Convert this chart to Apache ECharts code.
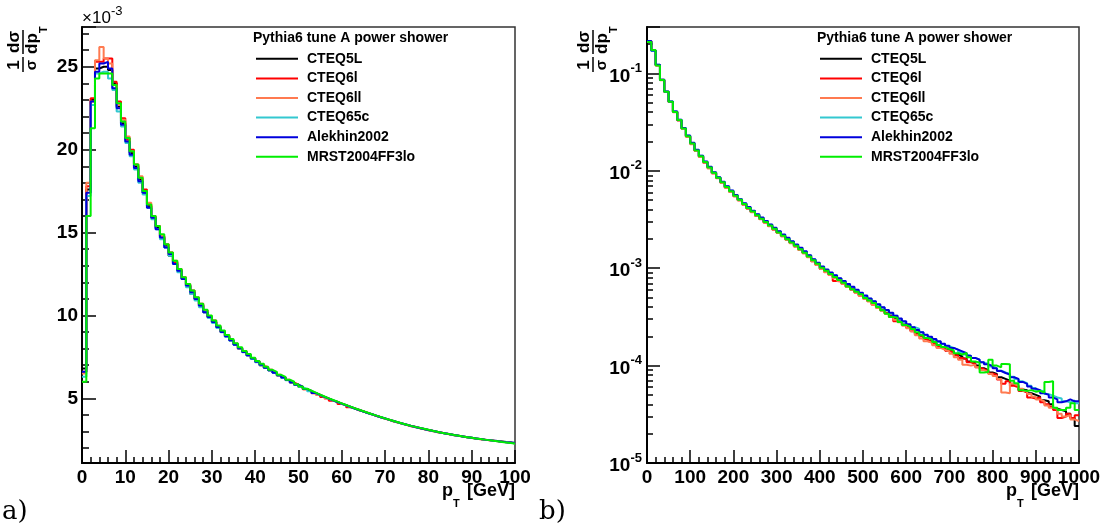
<!DOCTYPE html>
<html><head><meta charset="utf-8">
<script src="https://cdn.jsdelivr.net/npm/echarts@6/dist/echarts.min.js"></script>
<style>html,body{margin:0;padding:0;background:#fff}#c{width:1104px;height:525px}</style>
</head><body><div id="c"></div>
<script>
// ---- data ----
const seriesNames = ['CTEQ5L', 'CTEQ6l', 'CTEQ6ll', 'CTEQ65c', 'Alekhin2002', 'MRST2004FF3lo'];
const seriesColors = ['#000000', '#ff0000', '#ff7a50', '#33c8d0', '#0000dd', '#00ee00'];
const legendTitle = 'Pythia6 tune A power shower';
const leftBinWidth = 1;    // GeV, 100 bins 0..100
const rightBinWidth = 10;  // GeV, 100 bins 0..1000

// left panel: 1/sigma dsigma/dpT in units of 10^-3, per 1 GeV bin
const leftCTEQ5L = [6.8,17.6,23.0,24.9,25.0,25.0,24.8,24.0,22.6,21.6,
20.7,19.8,19.0,18.2,17.4,16.6,15.9,15.3,14.7,14.2,
13.6,13.2,12.7,12.2,11.8,11.3,11.0,10.6,10.2,9.9,
9.6,9.3,9.0,8.75,8.5,8.25,8.0,7.8,7.6,7.4,
7.2,7.0,6.85,6.7,6.55,6.4,6.25,6.1,5.96,5.82,
5.69,5.56,5.44,5.32,5.2,5.09,4.98,4.88,4.78,4.68,
4.58,4.48,4.39,4.3,4.21,4.12,4.03,3.94,3.86,3.78,
3.7,3.62,3.54,3.47,3.4,3.33,3.27,3.21,3.15,3.09,
3.03,2.98,2.93,2.88,2.83,2.78,2.74,2.70,2.66,2.62,
2.58,2.54,2.51,2.48,2.45,2.42,2.39,2.36,2.33,2.30];
const leftCTEQ6l = [6.6,17.8,23.1,25.3,25.3,25.5,25.5,24.1,22.9,21.9,
20.6,20.0,19.1,18.3,17.6,16.7,16.0,15.4,14.8,14.3,
13.8,13.2,12.8,12.3,11.8,11.5,11.0,10.7,10.3,9.9,
9.7,9.3,9.05,8.8,8.5,8.3,8.0,7.85,7.6,7.42,
7.2,7.05,6.85,6.72,6.55,6.38,6.25,6.12,5.95,5.84,
5.7,5.55,5.45,5.3,5.22,5.08,4.99,4.86,4.79,4.66,
4.59,4.46,4.4,4.28,4.22,4.11,4.04,3.93,3.87,3.77,
3.71,3.6,3.55,3.46,3.41,3.32,3.28,3.2,3.15,3.08,
3.04,2.96,2.94,2.87,2.83,2.77,2.75,2.69,2.66,2.61,
2.58,2.53,2.51,2.47,2.45,2.41,2.39,2.35,2.33,2.28];
const leftCTEQ6ll = [6.5,18.0,22.9,25.4,26.2,25.5,25.2,23.9,22.7,21.8,
20.8,19.9,19.1,18.4,17.5,16.8,15.9,15.4,14.8,14.3,
13.7,13.3,12.7,12.3,11.9,11.4,11.1,10.6,10.3,9.95,
9.6,9.35,9.0,8.8,8.5,8.3,8.0,7.82,7.62,7.4,
7.22,7.0,6.88,6.7,6.57,6.42,6.25,6.1,5.98,5.8,
5.7,5.55,5.43,5.33,5.2,5.1,4.97,4.88,4.77,4.69,
4.57,4.49,4.38,4.31,4.2,4.13,4.02,3.95,3.85,3.79,
3.69,3.63,3.53,3.48,3.39,3.34,3.26,3.22,3.14,3.1,
3.02,2.99,2.92,2.89,2.82,2.79,2.73,2.71,2.65,2.63,
2.57,2.55,2.5,2.49,2.44,2.43,2.38,2.37,2.32,2.31];
const leftCTEQ65c = [6.3,17.2,22.7,24.6,24.7,24.7,24.3,23.6,22.3,21.4,
20.4,19.6,18.8,18.0,17.3,16.5,15.8,15.2,14.6,14.1,
13.6,13.1,12.6,12.2,11.7,11.3,10.9,10.5,10.2,9.85,
9.55,9.25,8.98,8.72,8.48,8.22,8.0,7.78,7.58,7.38,
7.18,7.0,6.83,6.68,6.53,6.38,6.23,6.09,5.95,5.81,
5.68,5.56,5.43,5.31,5.2,5.08,4.98,4.87,4.77,4.67,
4.57,4.48,4.38,4.29,4.2,4.11,4.03,3.94,3.86,3.78,
3.7,3.62,3.55,3.47,3.41,3.34,3.27,3.21,3.15,3.09,
3.03,2.98,2.93,2.88,2.83,2.78,2.74,2.7,2.66,2.62,
2.58,2.54,2.51,2.48,2.44,2.41,2.38,2.35,2.32,2.28];
const leftAlekhin2002 = [6.6,17.4,22.9,24.7,25.2,25.3,24.9,23.7,22.5,21.5,
20.5,19.7,18.9,18.1,17.4,16.5,15.9,15.2,14.7,14.1,
13.7,13.1,12.7,12.2,11.8,11.4,11.0,10.6,10.2,9.9,
9.6,9.3,9.0,8.75,8.5,8.24,8.02,7.8,7.6,7.4,
7.2,7.02,6.85,6.7,6.55,6.4,6.26,6.1,5.97,5.82,
5.7,5.56,5.45,5.32,5.21,5.09,4.99,4.88,4.78,4.68,
4.58,4.49,4.39,4.3,4.21,4.12,4.04,3.95,3.86,3.79,
3.7,3.63,3.55,3.48,3.41,3.34,3.27,3.21,3.15,3.09,
3.04,2.98,2.93,2.88,2.83,2.79,2.74,2.7,2.66,2.62,
2.58,2.55,2.51,2.48,2.45,2.42,2.38,2.35,2.33,2.3];
const leftMRST2004FF3lo = [6.0,16.0,21.3,24.3,24.6,24.6,24.6,23.9,22.8,21.7,
20.7,19.9,19.1,18.3,17.5,16.7,16.0,15.4,14.9,14.3,
13.8,13.3,12.8,12.3,11.9,11.5,11.1,10.7,10.35,10.0,
9.7,9.4,9.1,8.82,8.58,8.32,8.08,7.85,7.68,7.45,
7.25,7.08,6.9,6.72,6.6,6.42,6.3,6.12,6.0,5.85,
5.72,5.58,5.46,5.34,5.22,5.11,5.0,4.9,4.8,4.7,
4.6,4.5,4.4,4.31,4.22,4.13,4.04,3.96,3.87,3.79,
3.71,3.63,3.56,3.48,3.41,3.34,3.28,3.22,3.16,3.1,
3.04,2.99,2.93,2.88,2.84,2.79,2.75,2.7,2.66,2.62,
2.58,2.55,2.51,2.48,2.44,2.41,2.37,2.34,2.31,2.27];

// right panel: 1/sigma dsigma/dpT, per 10 GeV bin (log scale)
const rightCTEQ5L = [2.14e-1,1.71e-1,1.22e-1,8.55e-2,6.47e-2,5.10e-2,4.05e-2,3.30e-2,2.71e-2,2.26e-2,
1.90e-2,1.61e-2,1.40e-2,1.22e-2,1.08e-2,9.50e-3,8.45e-3,7.58e-3,6.80e-3,6.12e-3,
5.52e-3,5.01e-3,4.54e-3,4.14e-3,3.79e-3,3.48e-3,3.21e-3,2.96e-3,2.73e-3,2.52e-3,
2.32e-3,2.14e-3,1.98e-3,1.83e-3,1.68e-3,1.56e-3,1.44e-3,1.31e-3,1.19e-3,1.09e-3,
9.90e-4,9.25e-4,8.60e-4,8.05e-4,7.50e-4,7.00e-4,6.55e-4,6.10e-4,5.70e-4,5.30e-4,
4.95e-4,4.62e-4,4.30e-4,4.02e-4,3.75e-4,3.50e-4,3.28e-4,3.05e-4,2.84e-4,2.65e-4,
2.47e-4,2.30e-4,2.15e-4,2.04e-4,1.90e-4,1.80e-4,1.72e-4,1.60e-4,1.52e-4,1.44e-4,
1.40e-4,1.30e-4,1.24e-4,1.18e-4,1.10e-4,1.06e-4,1.00e-4,9.40e-5,9.00e-5,8.50e-5,
8.20e-5,7.60e-5,7.30e-5,7.00e-5,6.50e-5,6.20e-5,5.70e-5,5.60e-5,5.20e-5,5.00e-5,
4.80e-5,4.40e-5,4.30e-5,4.00e-5,3.60e-5,3.50e-5,3.40e-5,3.20e-5,2.90e-5,2.40e-5];
const rightCTEQ6l = [2.13e-1,1.72e-1,1.21e-1,8.60e-2,6.50e-2,5.10e-2,4.02e-2,3.31e-2,2.70e-2,2.25e-2,
1.90e-2,1.61e-2,1.40e-2,1.22e-2,1.07e-2,9.45e-3,8.45e-3,7.55e-3,6.75e-3,6.10e-3,
5.50e-3,4.98e-3,4.52e-3,4.10e-3,3.78e-3,3.46e-3,3.20e-3,2.94e-3,2.72e-3,2.50e-3,
2.31e-3,2.14e-3,1.97e-3,1.82e-3,1.68e-3,1.55e-3,1.43e-3,1.31e-3,1.18e-3,1.08e-3,
9.90e-4,9.20e-4,8.55e-4,7.40e-4,7.30e-4,6.95e-4,6.45e-4,6.05e-4,5.65e-4,5.25e-4,
4.90e-4,4.60e-4,4.25e-4,3.95e-4,3.70e-4,3.45e-4,3.15e-4,2.85e-4,2.80e-4,2.60e-4,
2.45e-4,2.25e-4,2.10e-4,2.00e-4,1.88e-4,1.78e-4,1.68e-4,1.55e-4,1.50e-4,1.42e-4,
1.36e-4,1.28e-4,1.20e-4,1.16e-4,1.08e-4,1.04e-4,9.60e-5,9.20e-5,8.80e-5,8.30e-5,
8.00e-5,7.20e-5,6.50e-5,6.90e-5,6.20e-5,6.00e-5,5.50e-5,5.30e-5,4.70e-5,4.60e-5,
4.70e-5,4.20e-5,4.00e-5,3.80e-5,3.50e-5,2.90e-5,3.00e-5,3.20e-5,2.90e-5,3.10e-5];
const rightCTEQ6ll = [2.15e-1,1.72e-1,1.22e-1,8.50e-2,6.45e-2,5.08e-2,4.00e-2,3.30e-2,2.69e-2,2.24e-2,
1.88e-2,1.60e-2,1.39e-2,1.21e-2,1.06e-2,9.40e-3,8.40e-3,7.50e-3,6.72e-3,6.05e-3,
5.48e-3,4.96e-3,4.50e-3,4.10e-3,3.76e-3,3.45e-3,3.18e-3,2.93e-3,2.70e-3,2.49e-3,
2.30e-3,2.12e-3,1.96e-3,1.81e-3,1.67e-3,1.54e-3,1.42e-3,1.30e-3,1.18e-3,1.08e-3,
9.80e-4,9.10e-4,8.50e-4,7.90e-4,7.40e-4,6.90e-4,6.40e-4,6.00e-4,5.60e-4,5.20e-4,
4.85e-4,4.55e-4,4.20e-4,3.90e-4,3.65e-4,3.40e-4,3.20e-4,2.95e-4,2.78e-4,2.58e-4,
2.42e-4,2.25e-4,2.05e-4,1.90e-4,1.78e-4,1.72e-4,1.62e-4,1.52e-4,1.45e-4,1.40e-4,
1.32e-4,1.22e-4,1.15e-4,1.02e-4,1.00e-4,1.02e-4,9.60e-5,9.00e-5,8.60e-5,8.20e-5,
7.80e-5,7.30e-5,5.30e-5,5.20e-5,6.50e-5,6.20e-5,5.80e-5,5.50e-5,5.10e-5,4.80e-5,
4.50e-5,4.30e-5,3.90e-5,3.70e-5,3.60e-5,3.20e-5,3.00e-5,3.10e-5,2.80e-5,2.70e-5];
const rightCTEQ65c = [2.12e-1,1.70e-1,1.23e-1,8.60e-2,6.50e-2,5.14e-2,4.06e-2,3.34e-2,2.74e-2,2.29e-2,
1.93e-2,1.64e-2,1.43e-2,1.24e-2,1.09e-2,9.62e-3,8.58e-3,7.70e-3,6.92e-3,6.24e-3,
5.62e-3,5.10e-3,4.62e-3,4.22e-3,3.87e-3,3.56e-3,3.28e-3,3.03e-3,2.79e-3,2.58e-3,
2.38e-3,2.20e-3,2.03e-3,1.87e-3,1.73e-3,1.61e-3,1.48e-3,1.35e-3,1.23e-3,1.13e-3,
1.03e-3,9.60e-4,8.95e-4,8.40e-4,7.85e-4,7.35e-4,6.85e-4,6.40e-4,5.95e-4,5.55e-4,
5.20e-4,4.85e-4,4.55e-4,4.22e-4,3.95e-4,3.70e-4,3.45e-4,3.25e-4,3.00e-4,2.82e-4,
2.62e-4,2.48e-4,2.40e-4,2.20e-4,2.05e-4,1.95e-4,1.85e-4,1.75e-4,1.66e-4,1.58e-4,
1.52e-4,1.46e-4,1.38e-4,1.30e-4,1.26e-4,1.20e-4,1.15e-4,1.08e-4,1.04e-4,9.80e-5,
9.40e-5,8.90e-5,8.50e-5,8.20e-5,7.70e-5,7.30e-5,6.90e-5,6.60e-5,6.20e-5,5.90e-5,
5.60e-5,5.40e-5,5.10e-5,4.90e-5,4.70e-5,4.60e-5,4.30e-5,4.20e-5,4.40e-5,4.10e-5];
const rightAlekhin2002 = [2.16e-1,1.72e-1,1.23e-1,8.62e-2,6.52e-2,5.15e-2,4.07e-2,3.35e-2,2.75e-2,2.30e-2,
1.94e-2,1.65e-2,1.43e-2,1.25e-2,1.10e-2,9.68e-3,8.62e-3,7.72e-3,6.95e-3,6.27e-3,
5.66e-3,5.12e-3,4.65e-3,4.25e-3,3.90e-3,3.58e-3,3.31e-3,3.05e-3,2.81e-3,2.60e-3,
2.40e-3,2.22e-3,2.05e-3,1.89e-3,1.75e-3,1.62e-3,1.49e-3,1.36e-3,1.24e-3,1.14e-3,
1.04e-3,9.70e-4,9.05e-4,8.45e-4,7.90e-4,7.38e-4,6.90e-4,6.45e-4,6.00e-4,5.60e-4,
5.25e-4,4.90e-4,4.58e-4,4.27e-4,3.98e-4,3.72e-4,3.48e-4,3.25e-4,3.04e-4,2.85e-4,
2.66e-4,2.48e-4,2.32e-4,2.20e-4,2.08e-4,1.98e-4,1.88e-4,1.78e-4,1.68e-4,1.60e-4,
1.52e-4,1.46e-4,1.40e-4,1.34e-4,1.26e-4,1.20e-4,1.15e-4,1.08e-4,1.03e-4,9.90e-5,
9.40e-5,8.80e-5,8.40e-5,8.10e-5,7.60e-5,7.30e-5,6.80e-5,6.50e-5,6.10e-5,5.80e-5,
5.60e-5,5.20e-5,5.00e-5,4.70e-5,4.50e-5,4.20e-5,4.30e-5,4.50e-5,4.30e-5,4.30e-5];
const rightMRST2004FF3lo = [2.10e-1,1.74e-1,1.21e-1,8.55e-2,6.48e-2,5.12e-2,4.03e-2,3.32e-2,2.72e-2,2.27e-2,
1.91e-2,1.62e-2,1.41e-2,1.23e-2,1.08e-2,9.55e-3,8.50e-3,7.62e-3,6.84e-3,6.17e-3,
5.56e-3,5.04e-3,4.57e-3,4.16e-3,3.82e-3,3.50e-3,3.23e-3,2.98e-3,2.75e-3,2.54e-3,
2.33e-3,2.16e-3,1.99e-3,1.84e-3,1.70e-3,1.57e-3,1.44e-3,1.32e-3,1.21e-3,1.11e-3,
1.01e-3,9.40e-4,8.70e-4,8.15e-4,7.55e-4,7.10e-4,6.50e-4,6.10e-4,5.75e-4,5.40e-4,
4.95e-4,4.65e-4,4.40e-4,4.00e-4,3.70e-4,3.40e-4,3.15e-4,3.10e-4,2.80e-4,2.62e-4,
2.50e-4,2.38e-4,2.20e-4,2.05e-4,1.92e-4,1.85e-4,1.75e-4,1.63e-4,1.55e-4,1.48e-4,
1.44e-4,1.34e-4,1.30e-4,1.35e-4,1.22e-4,1.10e-4,1.07e-4,8.50e-5,8.60e-5,1.15e-4,
1.00e-4,9.60e-5,1.04e-4,1.03e-4,7.00e-5,6.60e-5,5.60e-5,5.50e-5,5.60e-5,5.40e-5,
5.50e-5,5.30e-5,6.80e-5,6.90e-5,3.70e-5,3.50e-5,3.50e-5,3.70e-5,4.10e-5,3.50e-5];

const leftSeriesValues = [leftCTEQ5L, leftCTEQ6l, leftCTEQ6ll, leftCTEQ65c, leftAlekhin2002, leftMRST2004FF3lo];
const rightSeriesValues = [rightCTEQ5L, rightCTEQ6l, rightCTEQ6ll, rightCTEQ65c, rightAlekhin2002, rightMRST2004FF3lo];

// ---- helpers ----
function histData(vals, w) {
  const d = vals.map((v, i) => [i * w, v]);
  d.push([vals.length * w, vals[vals.length - 1]]);
  return d;
}
const FONT_AX = 'Liberation Sans';
const FONT_LG = 'Liberation Sans';
const black = '#000';

function yTitle(ox) {
  const f = 'bold 17px "Liberation Sans"';
  return {
    type: 'group', x: ox, y: 72, rotation: Math.PI / 2, children: [
      { type: 'text', x: 7, y: 0, style: { text: '1', font: f, align: 'center', verticalAlign: 'bottom', fill: black } },
      { type: 'line', shape: { x1: 0, y1: 0, x2: 15, y2: 0 }, style: { stroke: black, lineWidth: 1.5 } },
      { type: 'text', x: 7, y: 1, style: { text: 'σ', font: 'bold 15px "Liberation Sans"', align: 'center', verticalAlign: 'top', fill: black } },
      { type: 'text', x: 30, y: 0, style: { text: 'dσ', font: f, align: 'center', verticalAlign: 'bottom', fill: black } },
      { type: 'line', shape: { x1: 18, y1: 0, x2: 42, y2: 0 }, style: { stroke: black, lineWidth: 1.5 } },
      { type: 'text', x: 18, y: 1, style: { text: 'dp', font: f, align: 'left', verticalAlign: 'top', fill: black } },
      { type: 'text', x: 39, y: 15, style: { text: 'T', font: 'bold 11px "Liberation Sans"', align: 'left', verticalAlign: 'top', fill: black } }
    ]
  };
}
function xTitle(xr) {
  return [
    { type: 'text', x: xr, y: 491, style: { text: '[GeV]', font: 'bold 18px "Liberation Sans"', align: 'right', verticalAlign: 'middle', fill: black } },
    { type: 'text', x: xr - 73, y: 491, style: { text: 'p', font: 'bold 18px "Liberation Sans"', align: 'left', verticalAlign: 'middle', fill: black } },
    { type: 'text', x: xr - 62, y: 498, style: { text: 'T', font: 'bold 11px "Liberation Sans"', align: 'left', verticalAlign: 'top', fill: black } }
  ];
}

const axisLineStyle = { show: true, onZero: false, lineStyle: { color: black, width: 2 } };
const labelStyle = { color: black, fontFamily: FONT_AX, fontWeight: 'bold', fontSize: 19, formatter: function (v) { return String(v); } };

const option = {
  animation: false,
  backgroundColor: '#fff',
  grid: [
    { left: 82, top: 27, width: 433, height: 436, show: true, borderColor: '#333', borderWidth: 1.5, backgroundColor: 'transparent', containLabel: false },
    { left: 647, top: 27, width: 432, height: 436, show: true, borderColor: '#333', borderWidth: 1.5, backgroundColor: 'transparent', containLabel: false }
  ],
  xAxis: [
    { gridIndex: 0, type: 'value', min: 0, max: 100, interval: 10, axisLine: axisLineStyle,
      axisTick: { show: true, inside: true, length: 13, lineStyle: { color: black, width: 1.5 } },
      minorTick: { show: true, splitNumber: 5, length: 6, lineStyle: { color: black, width: 1.5 } },
      splitLine: { show: false }, axisLabel: Object.assign({ margin: 5 }, labelStyle) },
    { gridIndex: 1, type: 'value', min: 0, max: 1000, interval: 100, axisLine: axisLineStyle,
      axisTick: { show: true, inside: true, length: 13, lineStyle: { color: black, width: 1.5 } },
      minorTick: { show: true, splitNumber: 5, length: 6, lineStyle: { color: black, width: 1.5 } },
      splitLine: { show: false }, axisLabel: Object.assign({ margin: 5 }, labelStyle) }
  ],
  yAxis: [
    { gridIndex: 0, type: 'value', min: 1.1, max: 27.4, splitNumber: 5, axisLine: axisLineStyle,
      axisTick: { show: true, inside: true, length: 14, lineStyle: { color: black, width: 1.5 } },
      minorTick: { show: true, splitNumber: 5, length: 7, lineStyle: { color: black, width: 1.5 } },
      splitLine: { show: false },
      axisLabel: Object.assign({ margin: 4, showMinLabel: false, showMaxLabel: false }, labelStyle) },
    { gridIndex: 1, type: 'log', logBase: 10, min: 1e-5, max: 0.3, axisLine: axisLineStyle,
      axisTick: { show: true, inside: true, length: 13, lineStyle: { color: black, width: 1.5 } },
      minorTick: { show: true, splitNumber: 9, length: 6, lineStyle: { color: black, width: 1.5 } },
      splitLine: { show: false },
      axisLabel: { margin: 5, showMaxLabel: false,
        formatter: function (v) { return '{b|10}{s|' + Math.round(Math.log10(v)) + '}'; },
        rich: {
          b: { color: black, fontFamily: FONT_AX, fontWeight: 'bold', fontSize: 19, padding: [6, 0, 0, 0] },
          s: { color: black, fontFamily: FONT_AX, fontWeight: 'bold', fontSize: 13, padding: [0, 0, 10, 0] }
        } } }
  ],
  legend: [0, 1].map(k => ({
    left: k === 0 ? 256 : 820, top: 49, orient: 'vertical', padding: 0,
    itemWidth: 42, itemHeight: 2, itemGap: 0, icon: 'rect', selectedMode: false,
    data: seriesNames,
    textStyle: { fontFamily: FONT_LG, fontWeight: 'bold', fontSize: 14, color: black, lineHeight: 19.6, padding: [0, 0, 0, 4] }
  })),
  series: [],
  graphic: []
};

seriesNames.forEach((name, i) => {
  const base = { type: 'line', name: name, step: 'end', symbol: 'none', showSymbol: false,
    color: seriesColors[i], lineStyle: { color: seriesColors[i], width: 2 }, emphasis: { disabled: true }, z: 2 + i };
  option.series.push(Object.assign({}, base, { xAxisIndex: 0, yAxisIndex: 0, data: histData(leftSeriesValues[i], leftBinWidth) }));
  option.series.push(Object.assign({}, base, { xAxisIndex: 1, yAxisIndex: 1, data: histData(rightSeriesValues[i], rightBinWidth) }));
});

option.graphic = [
  yTitle(23), yTitle(593),
  ...xTitle(515), ...xTitle(1079),
  { type: 'text', x: 82, y: 18, style: { text: '×10', font: '17px "Liberation Sans"', align: 'left', verticalAlign: 'middle', fill: black } },
  { type: 'text', x: 111, y: 11, style: { text: '-3', font: '13px "Liberation Sans"', align: 'left', verticalAlign: 'middle', fill: black } },
  { type: 'text', x: 253, y: 38, style: { text: legendTitle, font: 'bold 14px "Liberation Sans"', align: 'left', verticalAlign: 'middle', fill: black } },
  { type: 'text', x: 817, y: 38, style: { text: legendTitle, font: 'bold 14px "Liberation Sans"', align: 'left', verticalAlign: 'middle', fill: black } },
  { type: 'text', x: 2, y: 512, style: { text: 'a)', font: '26px "DejaVu Serif"', align: 'left', verticalAlign: 'middle', fill: black } },
  { type: 'text', x: 539, y: 512, style: { text: 'b)', font: '26px "DejaVu Serif"', align: 'left', verticalAlign: 'middle', fill: black } }
];

const chart = echarts.init(document.getElementById('c'), null, { renderer: 'canvas' });
chart.setOption(option);
</script>
</body></html>
